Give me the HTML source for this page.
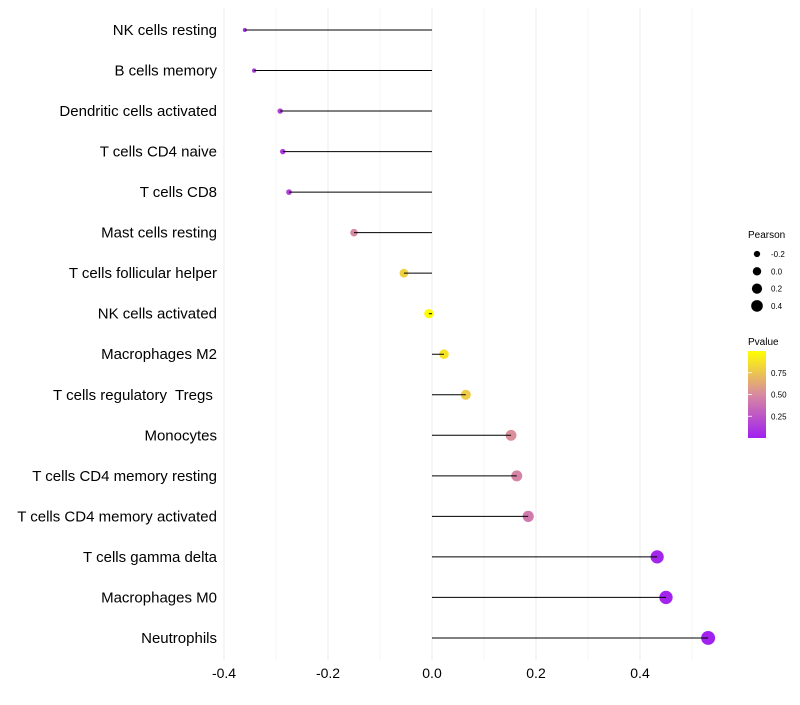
<!DOCTYPE html>
<html><head><meta charset="utf-8"><style>
body{margin:0;background:#fff;}
svg text{font-family:"Liberation Sans",sans-serif;white-space:pre;}
</style></head><body>
<svg id="chart" width="800" height="700" xmlns="http://www.w3.org/2000/svg">
<g id="grid"></g>
<g id="marks"></g>
<g id="ylabels"></g>
<g id="xlabels"></g>
<g id="legend">
<defs><linearGradient id="pg" x1="0" y1="1" x2="0" y2="0">
<stop offset="0" stop-color="#a020f0"/><stop offset="0.5" stop-color="#d88aa0"/><stop offset="1" stop-color="#ffff00"/></linearGradient></defs>
<text x="748" y="238" font-size="10">Pearson</text>
<text x="748" y="345" font-size="10">Pvalue</text>
<rect x="748" y="351" width="18" height="87" fill="url(#pg)"/>
</g>
</svg>
<script>
const categories=["NK cells resting","B cells memory","Dendritic cells activated","T cells CD4 naive","T cells CD8","Mast cells resting","T cells follicular helper","NK cells activated","Macrophages M2","T cells regulatory  Tregs ","Monocytes","T cells CD4 memory resting","T cells CD4 memory activated","T cells gamma delta","Macrophages M0","Neutrophils"];
const pearson=[-0.36,-0.342,-0.292,-0.287,-0.275,-0.15,-0.054,-0.006,0.023,0.065,0.152,0.163,0.185,0.433,0.45,0.531];
const pvalue=[0.08,0.1,0.15,0.13,0.17,0.5,0.8,0.99,0.88,0.78,0.52,0.47,0.42,0.03,0.02,0.01];
const xTicks=[-0.4,-0.2,0,0.2,0.4];
const xTickLabels=["-0.4","-0.2","0.0","0.2","0.4"];
const sizeLegend=[-0.2,0,0.2,0.4];
const sizeLegendLabels=["-0.2","0.0","0.2","0.4"];
const pLegend=[0.25,0.5,0.75];
const pLegendLabels=["0.25","0.50","0.75"];
const NS="http://www.w3.org/2000/svg";
const x=v=>432+v*520;
const y=i=>30+i*40.53;
const r=v=>Math.sqrt(Math.max(2,22+50*v));
function lerp(a,b,t){return a.map((c,i)=>Math.round(c+(b[i]-c)*t));}
function col(p){const s=[[160,32,240],[216,138,160],[255,255,0]];let c=p<0.5?lerp(s[0],s[1],p/0.5):lerp(s[1],s[2],(p-0.5)/0.5);return `rgb(${c})`;}
function mk(tag,at,parent){const e=document.createElementNS(NS,tag);for(const k in at)e.setAttribute(k,at[k]);document.getElementById(parent).appendChild(e);return e;}
for(let k=-4;k<=5;k++){const v=k/10;const g=mk('line',{x1:x(v),x2:x(v),y1:8,y2:660,stroke:'#ebebeb','stroke-width':k%2==0?1:0.5},'grid');

}
xTicks.forEach((t,i)=>{const e=mk('text',{x:x(t),y:678,'font-size':14,'text-anchor':'middle',fill:'#000'},'xlabels');e.textContent=xTickLabels[i];

});
categories.forEach((c,i)=>{
const t=mk('text',{x:217,y:y(i)+5,'font-size':15,'text-anchor':'end',fill:'#000'},'ylabels');t.textContent=c;


const d=mk('circle',{cx:x(pearson[i]),cy:y(i),r:r(pearson[i]),fill:col(pvalue[i])},'marks');


const l=mk('line',{x1:x(0),x2:x(pearson[i]),y1:y(i),y2:y(i),stroke:'#000','stroke-width':1},'marks');


});
sizeLegend.forEach((v,i)=>{const cy=254+i*17.3;
const c=mk('circle',{cx:757,cy:cy,r:r(v)*0.9,fill:'#000'},'legend');


const t=mk('text',{x:771,y:cy+3,'font-size':8},'legend');t.textContent=sizeLegendLabels[i];

});
pLegend.forEach((p,i)=>{const yy=438-p*87;
const tk=mk('line',{x1:748,x2:752,y1:yy,y2:yy,stroke:'#fff','stroke-width':0.8},'legend');


const t=mk('text',{x:771,y:yy+3,'font-size':8},'legend');t.textContent=pLegendLabels[i];

});
</script>
</body></html>
